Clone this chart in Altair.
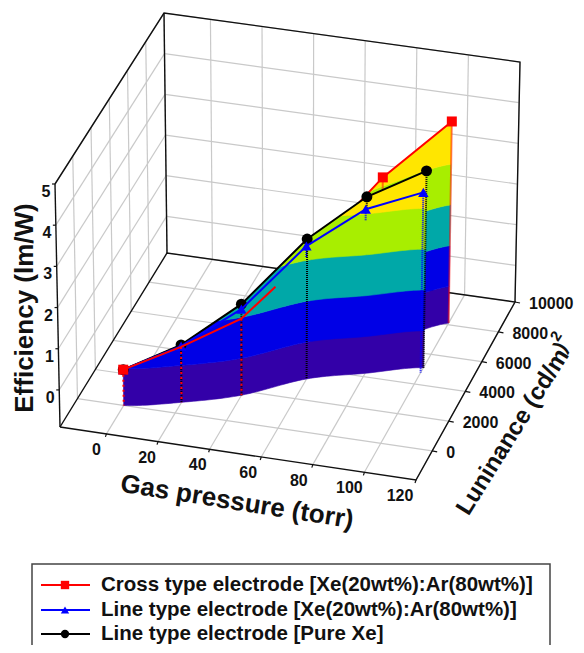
import altair as alt
import numpy as np
import pandas as pd

# ---- data ----
pressure = [0, 20, 40, 60, 80, 100]
red_lum = [0, 730, 1720, 3800, 6100, 8100]
red_eff = [-0.03, 0.45, 0.97, 2.0, 3.22, 4.05]
blue_lum = [0, 730, 1730, 3250, 4100, 4750]
blue_eff = [-0.03, 0.47, 1.2, 2.38, 3.16, 3.52]
black_lum = [0, 730, 1730, 3340, 4220, 5100]
black_eff = [-0.03, 0.5, 1.32, 2.52, 3.42, 3.92]
# lowest efficiency down to which each drop line stays in front of the surface
black_drop_to = [-0.9, -0.9, -0.9, -0.9, 3.1, -0.9]
blue_drop_to = [-0.9, 0.47, 1.2, 2.1, 2.88, -0.9]

x_ticks = [0, 20, 40, 60, 80, 100, 120]
y_ticks = [0, 2000, 4000, 6000, 8000, 10000]
z_ticks = [0, 1, 2, 3, 4, 5]
band_edges = [-0.9, 0, 1, 2, 3, 5]
band_colors = ["#3300a8", "#0000e6", "#00a8a8", "#a8ee00", "#ffe600"]
legend_names = ["Cross type electrode [Xe(20wt%):Ar(80wt%)]",
                "Line type electrode [Xe(20wt%):Ar(80wt%)]",
                "Line type electrode [Pure Xe]"]

XMIN, XMAX, YMIN, YMAX, ZMIN, ZMAX = -18.0, 120.0, -1950.0, 10000.0, -0.9, 5.0
# camera: where the eight corners of the box land in the picture
C = {(0,0,0):(60,427),(1,0,0):(416,480),(0,1,0):(167,253),(1,1,0):(515,302),
     (0,0,1):(55,184),(1,0,1):(421,238),(0,1,1):(164,13),(1,1,1):(520,62)}

def proj(x, y, z):
    a = (x-XMIN)/(XMAX-XMIN); b = (y-YMIN)/(YMAX-YMIN); c = (z-ZMIN)/(ZMAX-ZMIN)
    px = py = 0.0
    for (i,j,k),(u,v) in C.items():
        w = (a if i else 1-a)*(b if j else 1-b)*(c if k else 1-c)
        px += w*u; py += w*v
    return px, py

X = alt.X("px:Q", scale=alt.Scale(domain=[8,576], range=[0,568]), axis=None)
Y = alt.Y("py:Q", scale=alt.Scale(domain=[8,645], range=[0,637]), axis=None)

def polyline(points, color, width=1.0, dash=None):
    rows = []
    for s, pts in enumerate(points):
        for i, (u,v) in enumerate(pts):
            rows.append({"px":u,"py":v,"s":s,"i":i})
    kw = {"strokeDash":dash} if dash else {}
    return alt.Chart(pd.DataFrame(rows)).mark_line(color=color, strokeWidth=width, clip=False, **kw).encode(
        x=X, y=Y, detail="s:N", order="i:Q")

def seg3(a, b):
    return [proj(*a), proj(*b)]

def curtain(ps, ls, zs):
    layers = []
    ps2, ll, ls2, zs2 = [], [], [], []
    n = len(ps)
    for i in range(n-1):
        p0 = ls[max(i-1,0)]; p1 = ls[i]; p2 = ls[i+1]; p3 = ls[min(i+2,n-1)]
        for t in np.linspace(0, 1, 16)[:-1]:
            ps2.append(ps[i]+t*(ps[i+1]-ps[i]))
            ll.append(p1+t*(p2-p1))
            ls2.append(0.5*(2*p1+(p2-p0)*t+(2*p0-5*p1+4*p2-p3)*t*t+(3*p1-p0-3*p2+p3)*t**3))
            zs2.append(zs[i]+t*(zs[i+1]-zs[i]))
    ps2.append(ps[-1]); ll.append(ls[-1]); ls2.append(ls[-1]); zs2.append(zs[-1])
    def point(p, l1, l2, level, z):
        return proj(p, l1, z) if level >= z else proj(p, l2, level)
    for bi, col in enumerate(band_colors):
        lo, hi = band_edges[bi], band_edges[bi+1]
        low = [point(p,a,b,lo,z) for p,a,b,z in zip(ps2,ll,ls2,zs2)]
        up = [point(p,a,b,hi,z) for p,a,b,z in zip(ps2,ll,ls2,zs2)]
        ring = [[u-8,v-8] for u,v in up] + [[u-8,v-8] for u,v in low[::-1]]
        ring.append(ring[0])
        feat = {"type":"Feature","properties":{},"geometry":{"type":"Polygon","coordinates":[ring]}}
        layers.append(alt.Chart(alt.InlineData(values=[feat], format=alt.DataFormat(type="json")))
                      .mark_geoshape(fill=col, stroke=col, strokeWidth=0.6, clip=False)
                      .project(type="identity", scale=1, translate=[0,0]))
    return layers

def marks(ps, ls, zs, shape, color, size):
    pts = [proj(p,l,z) for p,l,z in zip(ps,ls,zs)]
    df = pd.DataFrame({"px":[q[0] for q in pts],"py":[q[1] for q in pts]})
    return alt.Chart(df).mark_point(shape=shape, filled=True, color=color, size=size, opacity=1, clip=False).encode(x=X, y=Y)

def drops(ps, ls, zs, color, stops=None, dash=(1,1)):
    stops = stops or [ZMIN]*len(ps)
    return polyline([seg3((p,l,z),(p,l,s)) for p,l,z,s in zip(ps,ls,zs,stops)], color, 2, list(dash))

def texts(rows, size=16, align="center", angle=0, baseline="middle"):
    df = pd.DataFrame(rows, columns=["px","py","t"])
    return alt.Chart(df).mark_text(font="Liberation Sans", fontWeight="bold", fontSize=size, color="#111111",
                                   align=align, baseline=baseline, angle=angle, clip=False).encode(x=X, y=Y, text="t:N")

layers = []

# grid
g = []
for x in x_ticks:
    g.append(seg3((x,YMAX,ZMIN),(x,YMAX,ZMAX))); g.append(seg3((x,YMIN,ZMIN),(x,YMAX,ZMIN)))
for y in y_ticks:
    g.append(seg3((XMIN,y,ZMIN),(XMIN,y,ZMAX))); g.append(seg3((XMIN,y,ZMIN),(XMAX,y,ZMIN)))
for z in z_ticks:
    g.append(seg3((XMIN,YMAX,z),(XMAX,YMAX,z))); g.append(seg3((XMIN,YMIN,z),(XMIN,YMAX,z)))
layers.append(polyline(g, "#c9c9c9", 1.2))

# frame
f = [[proj(XMIN,YMIN,ZMAX),proj(XMIN,YMAX,ZMAX),proj(XMAX,YMAX,ZMAX),proj(XMAX,YMAX,ZMIN)],
     [proj(XMIN,YMAX,ZMAX),proj(XMIN,YMAX,ZMIN)],
     [proj(XMIN,YMIN,ZMIN),proj(XMAX,YMIN,ZMIN),proj(XMAX,YMAX,ZMIN),proj(XMIN,YMAX,ZMIN),proj(XMIN,YMIN,ZMIN)],
     [proj(XMIN,YMIN,ZMIN),proj(XMIN,YMIN,ZMAX)]]
layers.append(polyline(f, "#111111", 1.4))

# ticks
tk = []
for x in x_ticks:
    u,v = proj(x,YMIN,ZMIN); tk.append([(u,v),(u-1,v+3)])
for y in y_ticks:
    u,v = proj(XMAX,y,ZMIN); tk.append([(u,v),(u+5,v+1)])
for z in z_ticks:
    u,v = proj(XMIN,YMIN,z); tk.append([(u,v),(u-3,v)])
layers.append(polyline(tk, "#111111", 1.2))

# back curtain (red series from 60 torr)
layers += curtain(pressure[3:], red_lum[3:], red_eff[3:])
layers.append(drops(pressure[3:], red_lum[3:], red_eff[3:], "#ff0000"))
layers.append(polyline([[proj(p,l,z) for p,l,z in zip(pressure,red_lum,red_eff)]], "#ff0000", 2))
layers.append(marks(pressure[4:], red_lum[4:], red_eff[4:], "square", "#ff0000", 100))

# front curtain (black series)
layers += curtain(pressure, black_lum, black_eff)

# series on top
layers.append(drops(pressure[1:], blue_lum[1:], blue_eff[1:], "#0000ff", blue_drop_to[1:]))
layers.append(drops(pressure[1:], black_lum[1:], black_eff[1:], "#000000", black_drop_to[1:]))
layers.append(polyline([[proj(p,l,z) for p,l,z in zip(pressure,black_lum,black_eff)]], "#000000", 2))
layers.append(marks(pressure, black_lum, black_eff, "circle", "#000000", 120))
layers.append(polyline([[proj(p,l,z) for p,l,z in zip(pressure,blue_lum,blue_eff)]], "#0000ff", 2))
layers.append(marks(pressure, blue_lum, blue_eff, "triangle-up", "#0000ff", 110))
# visible front part of the red series (hides behind the surface past ~50 torr)
t = 0.49
red_front = [proj(p,l,z) for p,l,z in zip(pressure[:3],red_lum[:3],red_eff[:3])]
red_front.append(proj(pressure[2]+t*(pressure[3]-pressure[2]), red_lum[2]+t*(red_lum[3]-red_lum[2]), red_eff[2]+t*(red_eff[3]-red_eff[2])))
layers.append(drops(pressure[:3], red_lum[:3], red_eff[:3], "#ff0000", dash=(2,3)))
layers.append(polyline([red_front], "#ff0000", 2))
layers.append(marks(pressure[:1], red_lum[:1], red_eff[:1], "square", "#ff0000", 100))

# tick labels
rows = []
for z in z_ticks:
    u,v = proj(XMIN,YMIN,z); rows.append((u-9,v+8,str(z)))
layers.append(texts(rows))
rows = []
for x in x_ticks:
    u,v = proj(x,YMIN,ZMIN); rows.append((u-10-6*x/120,v+16,str(x)))
layers.append(texts(rows))
rows = []
for y in y_ticks:
    u,v = proj(XMAX,y,ZMIN); rows.append((u+14,v+2,str(y)))
layers.append(texts(rows, align="left"))

# titles
layers.append(texts([(513,432,"Luninance (cd/m")], size=24, angle=302))
layers.append(texts([(25,308,"Efficiency (lm/W)")], size=26, angle=270))
layers.append(texts([(237,502,"Gas pressure (torr)")], size=26, angle=9))
layers.append(texts([(556,336,"2")], size=15, angle=302))
layers.append(texts([(561,347,")")], size=20, angle=302))

# legend
box = [[(32,645),(32,564),(550,564),(550,645)]]
layers.append(polyline(box, "#444444", 1.5))
leg_y = [585, 610, 634]
leg_col = ["#ff0000", "#0000ff", "#000000"]
leg_shape = ["square", "triangle-up", "circle"]
leg_size = [70, 70, 70]
for yy, col, shp, sz, name in zip(leg_y, leg_col, leg_shape, leg_size, legend_names):
    layers.append(polyline([[(41,yy),(90,yy)]], col, 2))
    layers.append(alt.Chart(pd.DataFrame({"px":[65],"py":[yy]})).mark_point(shape=shp, filled=True, color=col, size=sz, opacity=1).encode(x=X, y=Y))
    layers.append(texts([(101,yy,name)], size=20.5, align="left"))

chart = alt.layer(*layers).properties(width=568, height=637, padding=0,
        autosize=alt.AutoSizeParams(type="none")).configure_view(strokeWidth=0)
chart.save("out.html", embed_options={"renderer": "svg", "actions": False})
